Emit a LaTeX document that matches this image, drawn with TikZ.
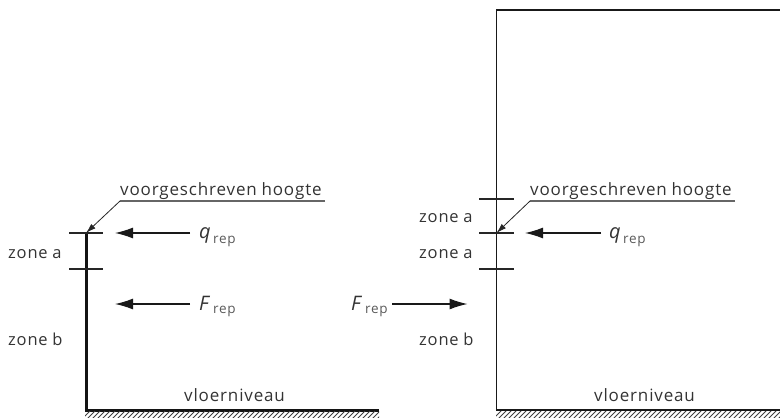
\documentclass[tikz,border=0pt]{standalone}
\usepackage{fontspec}
\setmainfont[LetterSpace=5]{Open Sans}
\newfontfamily\lblfont[LetterSpace=5,WordSpace=1.4]{Open Sans}
\newfontfamily\zonefont[LetterSpace=5,WordSpace=0.9]{Open Sans}
\newfontfamily\symfont{Open Sans}[ItalicFont=* Italic]
\usetikzlibrary{arrows.meta}
\tikzset{
  x=1pt,y=-1pt,
  wallthick/.style={line width=3pt,line cap=butt,line join=miter,black!92},
  wallthin/.style={line width=1.7pt,line join=miter,black!90},
  tick/.style={line width=1.1pt,black!85},
  leader/.style={line width=1.1pt,black!60},
  leaderarrow/.style={line width=0.8pt,black!85,-{Latex[length=10pt,width=6pt]}},
  force/.style={line width=1.2pt,black!90,-{Latex[length=18pt,width=11pt]}},
  hatch/.style={line width=1pt,black!75},
  lbl/.style={inner sep=0pt,font=\fontsize{17}{18}\selectfont\lblfont,text=black!80,anchor=base west},
  zone/.style={inner sep=0pt,font=\fontsize{16.5}{18}\selectfont\zonefont,text=black!80,anchor=base west},
  sym/.style={inner sep=0pt,font=\fontsize{20}{21}\selectfont\symfont\itshape,text=black!80,anchor=base west},
  sub/.style={inner sep=0pt,font=\fontsize{13.5}{14}\selectfont\lblfont,text=black!65,anchor=base west},
}
\begin{document}
\begin{tikzpicture}
\useasboundingbox (0,0) rectangle (780,418);
% left wall
\coordinate (LT) at (86,233);
\coordinate (LB) at (86,410);
\coordinate (LE) at (379,410);
\draw[wallthick] (LT) -- (LB) -- (LE);
\coordinate (t1a) at (69,233); \coordinate (t1b) at (103,233);
\coordinate (t2a) at (69,269); \coordinate (t2b) at (103,269);
\draw[tick] (t1a) -- (t1b);
\draw[tick] (t2a) -- (t2b);
% right wall
\coordinate (RT) at (496.5,10);
\coordinate (RB) at (496.5,410);
\coordinate (RE) at (780,410);
\coordinate (RTE) at (780,10);
\draw[wallthin] (RTE) -- (RT) -- (RB) -- (RE);
\coordinate (r0a) at (479,199); \coordinate (r0b) at (514,199);
\coordinate (r1a) at (479,233); \coordinate (r1b) at (514,233);
\coordinate (r2a) at (479,269); \coordinate (r2b) at (514,269);
\draw[tick] (r0a) -- (r0b);
\draw[tick] (r1a) -- (r1b);
\draw[tick] (r2a) -- (r2b);
% hatching
\begin{scope}
\clip (85,411.5) rectangle (379,418);
\foreach \i in {0,...,62} \draw[hatch] ({82+\i*5},419) -- ({91+\i*5},410);
\end{scope}
\begin{scope}
\clip (496,411.5) rectangle (780,418);
\foreach \i in {0,...,60} \draw[hatch] ({493+\i*5},419) -- ({502+\i*5},410);
\end{scope}
% leaders
\coordinate (lk) at (120,201); \coordinate (le) at (325,201);
\draw[leader] (le) -- (lk);
\draw[leaderarrow] (lk) -- (LT);
\coordinate (rk) at (530,201); \coordinate (re) at (735,201);
\draw[leader] (re) -- (rk);
\coordinate (rq) at (496.5,233);
\draw[leaderarrow] (rk) -- (rq);
\node[lbl] (vh1) at (120,195) {voorgeschreven hoogte};
\node[lbl] (vh2) at (530,195) {voorgeschreven hoogte};
% forces
\coordinate (qa) at (190,233); \coordinate (qb) at (115,233);
\draw[force] (qa) -- (qb);
\coordinate (fa) at (190,304); \coordinate (fb) at (115,304);
\draw[force] (fa) -- (fb);
\coordinate (qra) at (601,233); \coordinate (qrb) at (525,233);
\draw[force] (qra) -- (qrb);
\coordinate (fra) at (392,304); \coordinate (frb) at (467.5,304);
\draw[force] (fra) -- (frb);
\node[sym] (q1) at (199,238) {q};
\node[sub] (q1s) at (213,243) {rep};
\node[sym] (f1) at (199,310) {F};
\node[sub] (f1s) at (213,313) {rep};
\node[sym] (q2) at (609,238) {q};
\node[sub] (q2s) at (623,243) {rep};
\node[sym] (f2) at (351,310) {F};
\node[sub] (f2s) at (365,313) {rep};
% zones
\node[zone] (za1) at (8,258) {zone a};
\node[zone] (zb1) at (8,345) {zone b};
\node[zone] (za2) at (419,222) {zone a};
\node[zone] (za3) at (419,258) {zone a};
\node[zone] (zb2) at (419,345) {zone b};
\node[lbl] (v1) at (184,401) {vloerniveau};
\node[lbl] (v2) at (594,401) {vloerniveau};
\end{tikzpicture}
\end{document}
